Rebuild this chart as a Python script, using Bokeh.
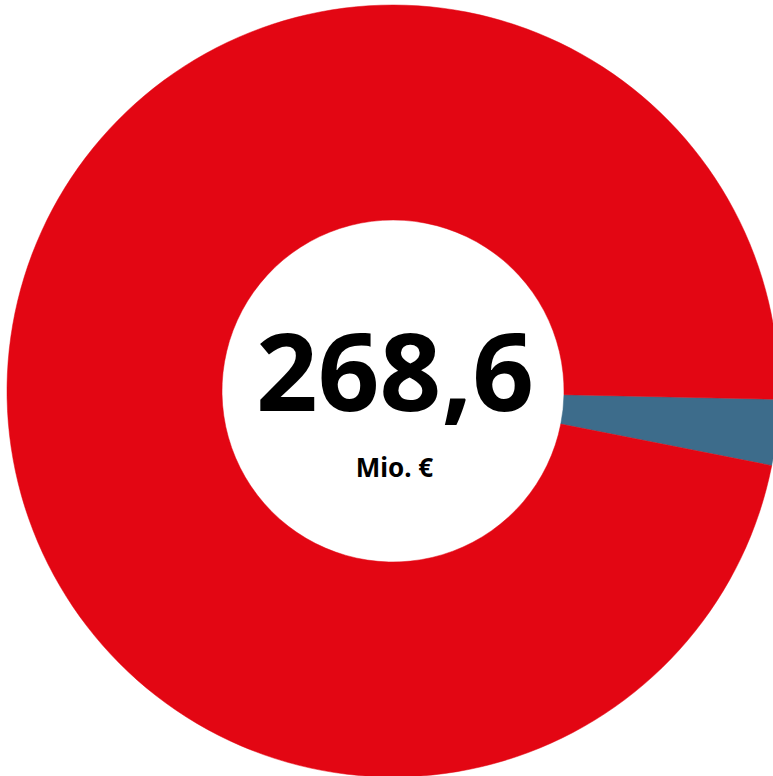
import math
from bokeh.plotting import figure
from bokeh.models import ColumnDataSource, Range1d
from bokeh.core.properties import value
from bokeh.embed import file_html
from bokeh.resources import INLINE

# data
categories = ["Rest", "Anteil"]
values = [261.2, 7.4]
total_label = "268,6"
unit_label = "Mio. €"
colors = ["#E30613", "#3D6C8B"]

# layout (screen-pixel data space; y up)
W, H = 773, 776
cx, cy = 392.5, H - 390.5
r_out, r_in = 386, 171
offset = math.radians(-11.15)

total = sum(values)
order = [1, 0]  # blue first (anticlockwise from offset), then red
starts, ends, cols = [], [], []
a = offset
for i in order:
    sweep = values[i] / total * 2 * math.pi
    starts.append(a)
    ends.append(a + sweep)
    cols.append(colors[i])
    a += sweep

src = ColumnDataSource(dict(x=[cx] * len(starts), y=[cy] * len(starts),
                            start=starts, end=ends, color=cols,
                            cat=[categories[i] for i in order]))

p = figure(width=W, height=H, output_backend="svg", toolbar_location=None,
           x_range=Range1d(0, W), y_range=Range1d(0, H),
           min_border=0, outline_line_color=None, background_fill_color="white",
           border_fill_color="white")
p.axis.visible = False
p.grid.visible = False

p.annular_wedge(x="x", y="y", inner_radius=r_in, outer_radius=r_out,
                start_angle="start", end_angle="end", fill_color="color",
                line_color="color", line_width=0.5, source=src)

p.text(x=[cx + 2], y=[H - 371], text=[total_label],
       text_font=value("Noto Sans"), text_font_style="bold",
       text_font_size="108px", text_align="center", text_baseline="alphabetic",
       text_color="black")
p.text(x=[cx + 1.5], y=[H - 466], text=[unit_label],
       text_font=value("Noto Sans"), text_font_style="bold",
       text_font_size="26px", text_align="center", text_baseline="alphabetic",
       text_color="black")

open("out.html", "w").write(file_html(p, INLINE))
